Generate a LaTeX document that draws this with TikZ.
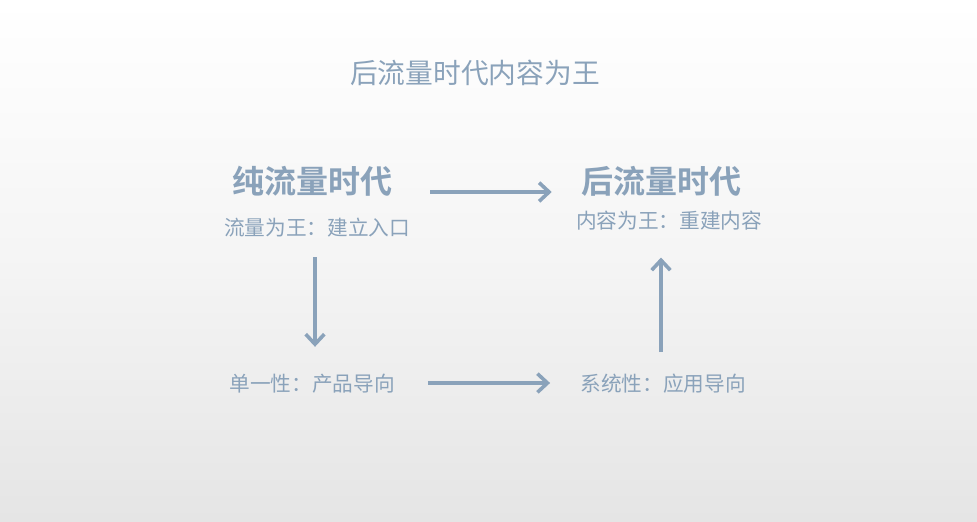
\documentclass[tikz,border=0pt]{standalone}
\usepackage{fontspec}
\setmainfont{Noto Sans CJK SC}
\newfontfamily\cjk{Noto Sans CJK SC}
\newfontfamily\cjkbold{Noto Sans CJK SC Bold}
\usetikzlibrary{arrows.meta}
\definecolor{ink}{RGB}{138,162,186}
\definecolor{bgbot}{RGB}{229,229,229}
\begin{document}
\begin{tikzpicture}[x=0.75pt,y=0.75pt,
  heading/.style={inner sep=0pt,text=ink,font=\cjkbold\fontsize{24pt}{24pt}\selectfont},
  sub/.style={inner sep=0pt,text=ink,font=\cjk\fontsize{15.5pt}{15.5pt}\selectfont},
  titletext/.style={inner sep=0pt,text=ink,font=\cjk\fontsize{20.8pt}{20.8pt}\selectfont},
  arr/.style={draw=ink,line width=2.7pt,-{Straight Barb[length=7.5pt,width=14pt,line width=2.7pt]}}]
\shade[top color=white,bottom color=bgbot,middle color=white!60!bgbot] (0,0) rectangle (977,-521);
\useasboundingbox (0,0) rectangle (977,-521);
\node[titletext] (title) at (475,-73) {后流量时代内容为王};
\node[heading] (a1) at (312,-181) {纯流量时代};
\node[sub] (a2) at (317,-228) {流量为王：建立入口};
\node[heading] (b1) at (661,-181) {后流量时代};
\node[sub] (b2) at (669,-221) {内容为王：重建内容};
\node[sub] (c) at (312,-384) {单一性：产品导向};
\node[sub] (d) at (663,-384) {系统性：应用导向};
\draw[arr] ([xshift=28.5pt,yshift=-8.25pt]a1.east) -- ([xshift=-21.75pt,yshift=-8.25pt]b1.west);
\draw[arr,shorten <=14.5pt,shorten >=20.5pt] ([xshift=-1.5pt]a2.south) -- ([xshift=2.25pt]c.north);
\draw[arr] ([yshift=0.75pt,xshift=24.75pt]c.east) -- ([yshift=0.75pt,xshift=-22.5pt]d.west);
\draw[arr,shorten <=16.5pt,shorten >=20pt] ([xshift=-1.5pt]d.north) -- ([xshift=-6pt]b2.south);
\end{tikzpicture}
\end{document}
